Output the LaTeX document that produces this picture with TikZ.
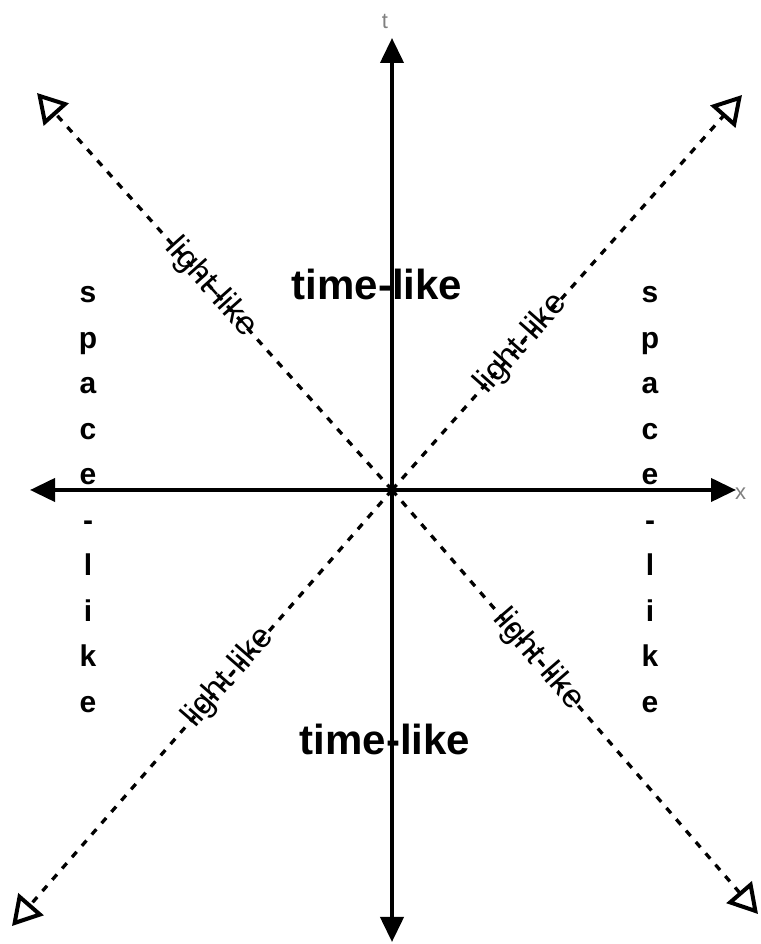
\documentclass[tikz,border=0pt]{standalone}
\usepackage{fontspec}
\setmainfont{Liberation Sans}
\usetikzlibrary{arrows.meta}

\begin{document}
\begin{tikzpicture}[x=1pt, y=1pt,
		ax/.style = {line width=4pt, -{Triangle[length=25pt, width=23pt]}},
		lc/.style = {line width=3.3pt, dash pattern=on 7pt off 8pt, -{Triangle[open, length=29pt, width=33pt, line width=4pt]}},
		ll/.style = {sloped, inner sep=0pt, font=\fontsize{33}{33}\selectfont},
		tl/.style = {font=\fontsize{42}{42}\selectfont\bfseries, anchor=base, inner sep=0pt},
		sl/.style = {font=\fontsize{30}{30}\selectfont\bfseries, anchor=base, inner sep=0pt},
		al/.style = {text=gray, font=\fontsize{22}{22}\selectfont, inner sep=0pt},
		]
		\useasboundingbox (0, 0) rectangle (760, 944);
		
		%Coordinates
		\coordinate	(o)	at	(392, 454);
		\coordinate	(top)	at	(392, 906);
		\coordinate	(bot)	at	(392, 2);
		\coordinate	(lft)	at	(30, 454);
		\coordinate	(rgt)	at	(736, 454);
		\coordinate	(ul)	at	(37, 851);
		\coordinate	(ur)	at	(742, 849);
		\coordinate	(dl)	at	(12, 18);
		\coordinate	(dr)	at	(758, 30);
		
		%Nodes
		\node[al]	(t)	at	(385, 923)	{t};
		\node[al, anchor=west]	(x)	at	(735, 450)	{x};
		\node[tl]	(tl1)	at	(377, 644)	{time-like};
		\node[tl]	(tl2)	at	(385, 189)	{time-like};
		\foreach \l [count=\i] in {s,p,a,c,e,-,l,i,k,e} {
			\node[sl]	(sa\i)	at	(88, 641-45.5*\i+45.5)	{\l};
			\node[sl]	(sb\i)	at	(650, 641-45.5*\i+45.5)	{\l};
		}
		
		%Lines
		\draw[lc]	(o)	to	node[ll, pos=0.51]	{light-like}	(ul);
		\draw[lc]	(o)	to	node[ll, pos=0.37]	{light-like}	(ur);
		\draw[lc]	(o)	to	node[ll, pos=0.43]	{light-like}	(dl);
		\draw[lc]	(o)	to	node[ll, pos=0.40]	{light-like}	(dr);
		\draw[ax]	(o)	to	(top);
		\draw[ax]	(o)	to	(bot);
		\draw[ax]	(o)	to	(lft);
		\draw[ax]	(o)	to	(rgt);
		\fill	(o)	circle	(4.5);
		
	\end{tikzpicture}
\end{document}
